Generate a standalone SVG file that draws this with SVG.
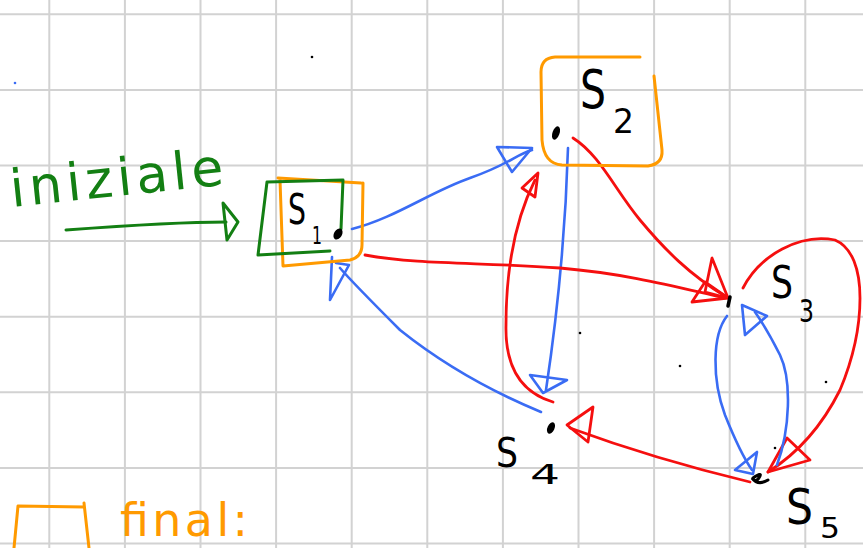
<svg xmlns="http://www.w3.org/2000/svg" width="863" height="548" viewBox="0 0 863 548">
<style>
.grid line{stroke:#d2d2d2;stroke-width:2}
.b{fill:none;stroke:#3a6cf4;stroke-width:2.6;stroke-linecap:round;stroke-linejoin:round}
.r{fill:none;stroke:#f50f0f;stroke-width:2.8;stroke-linecap:round;stroke-linejoin:round}
.g{fill:none;stroke:#137f13;stroke-width:3;stroke-linecap:round;stroke-linejoin:round}
.o{fill:none;stroke:#ff9a00;stroke-width:3;stroke-linecap:round;stroke-linejoin:round}
.lab{font-family:"DejaVu Sans",sans-serif;fill:#000}
</style>
<rect width="863" height="548" fill="#fff"/>
<g class="grid">
<line x1="49.3" y1="0" x2="49.3" y2="548"/><line x1="124.9" y1="0" x2="124.9" y2="548"/><line x1="200.5" y1="0" x2="200.5" y2="548"/><line x1="276.1" y1="0" x2="276.1" y2="548"/><line x1="351.7" y1="0" x2="351.7" y2="548"/><line x1="427.3" y1="0" x2="427.3" y2="548"/><line x1="502.9" y1="0" x2="502.9" y2="548"/><line x1="578.5" y1="0" x2="578.5" y2="548"/><line x1="654.1" y1="0" x2="654.1" y2="548"/><line x1="729.7" y1="0" x2="729.7" y2="548"/><line x1="805.3" y1="0" x2="805.3" y2="548"/>
<line x1="0" y1="14.3" x2="863" y2="14.3"/><line x1="0" y1="89.9" x2="863" y2="89.9"/><line x1="0" y1="165.5" x2="863" y2="165.5"/><line x1="0" y1="241.1" x2="863" y2="241.1"/><line x1="0" y1="316.7" x2="863" y2="316.7"/><line x1="0" y1="392.3" x2="863" y2="392.3"/><line x1="0" y1="467.9" x2="863" y2="467.9"/><line x1="0" y1="543.5" x2="863" y2="543.5"/>
</g>
<g id="specks">
<circle cx="312" cy="57" r="1.3" fill="#000"/><circle cx="15" cy="83" r="1.3" fill="#3a6cf4"/><circle cx="580" cy="333" r="1.3" fill="#000"/><circle cx="680" cy="366" r="1.3" fill="#000"/><circle cx="826" cy="382" r="1.3" fill="#000"/><circle cx="775" cy="448" r="1.3" fill="#000"/>
</g>
<g id="legend-initial">
<text class="lab" x="12" y="207" font-size="52" style="fill:#137f13" textLength="214" lengthAdjust="spacing" transform="rotate(-6 12 207)">iniziale</text>
</g>
<g id="legend-final">
<path class="o" d="M84,507 L18,506 L14,548 M84,503 L89,548"/>
<text class="lab" x="120" y="536" font-size="46" style="fill:#ff9a00" textLength="128" lengthAdjust="spacing">final:</text>
</g>
<g id="connectors">
<path class="g" d="M66,230 C120,226 180,222 226,222"/>
<path class="g" d="M223,203 L238,222 L227,240 Z"/>
<path class="b" d="M352,229 C395,218 430,192 470,178 S515,155 532,150"/>
<path class="b" d="M532,148 L497,147 L512,172 Z"/>
<path class="b" d="M568,148 C565,250 555,330 546,390"/>
<path class="b" d="M530,375 L567,380 L543,393 Z"/>
<path class="b" d="M541,412 C500,395 450,370 400,330 C370,300 352,282 340,268"/>
<path class="b" d="M332,257 L330,300 L349,265 L336,263"/>
<path class="r" d="M365,255 C420,265 480,262 560,268 C630,274 680,288 725,298"/>
<path class="r" d="M728,298 L692,302 L705,282 Z"/>
<path class="r" d="M573,138 C600,155 615,190 640,220 C665,250 690,275 725,296"/>
<path class="r" d="M712,258 L705,292 L728,298 Z"/>
<path class="r" d="M553,402 C520,392 505,365 506,325 C506,270 515,220 535,180"/>
<path class="r" d="M538,173 L522,188 L535,197 Z"/>
<path class="r" d="M750,482 C700,470 630,450 570,428"/>
<path class="r" d="M567,425 L593,407 L588,442 Z"/>
<path class="r" d="M743,288 C760,255 800,233 835,240 C870,255 865,330 840,390 C820,430 795,455 768,472"/>
<path class="r" d="M768,472 L787,438 L810,460 Z"/>
<path class="b" d="M727,316 C712,335 712,380 725,415 C735,440 745,460 752,470"/>
<path class="b" d="M753,474 L735,470 L757,452 Z"/>
<path class="b" d="M777,465 C790,430 792,380 780,355 C770,335 762,322 755,312"/>
<path class="b" d="M742,305 L767,316 L745,335 Z"/>
</g>
<g id="S1">
<path class="o" d="M361,183 L278,178 M280,180 L283,266 L350,260 Q362,257 362,245 L363,183"/>
<path class="g" d="M267,182 L343,180 L341,229 M267,182 L258,255 L330,251"/>
<ellipse cx="338" cy="234" rx="4" ry="6" transform="rotate(30 338 234)" fill="#000"/>
<text class="lab" x="288" y="224" font-size="42" textLength="18" lengthAdjust="spacingAndGlyphs">S</text>
<text class="lab" x="312" y="244" font-size="24" textLength="10" lengthAdjust="spacingAndGlyphs">1</text>
</g>
<g id="S2">
<path class="o" d="M640,57 L555,57 Q541,58 541,72 L542,140 Q544,164 562,165 L648,166 Q663,164 662,150 L654,76"/>
<ellipse cx="556" cy="133" rx="3.5" ry="7" transform="rotate(20 556 133)" fill="#000"/>
<text class="lab" x="580" y="108" font-size="54" textLength="26" lengthAdjust="spacingAndGlyphs">S</text>
<text class="lab" x="613" y="133" font-size="34" textLength="21" lengthAdjust="spacingAndGlyphs">2</text>
</g>
<g id="S3">
<path d="M730,297 L728,306" stroke="#000" stroke-width="3.5" stroke-linecap="round"/>
<text class="lab" x="771" y="298" font-size="44" textLength="22" lengthAdjust="spacingAndGlyphs">S</text>
<text class="lab" x="799" y="322" font-size="32" textLength="15" lengthAdjust="spacingAndGlyphs">3</text>
</g>
<g id="S4">
<ellipse cx="551" cy="428" rx="3.5" ry="6" transform="rotate(25 551 428)" fill="#000"/>
<text class="lab" x="496" y="467" font-size="40" textLength="22" lengthAdjust="spacingAndGlyphs">S</text>
<text class="lab" x="530" y="484" font-size="26" textLength="30" lengthAdjust="spacingAndGlyphs">4</text>
</g>
<g id="S5">
<path d="M753,478 Q762,472 760,476 Q756,484 752,478 Q758,486 768,480" fill="none" stroke="#000" stroke-width="3" stroke-linecap="round"/>
<text class="lab" x="786" y="524" font-size="50" textLength="27" lengthAdjust="spacingAndGlyphs">S</text>
<text class="lab" x="820" y="538" font-size="28" textLength="20" lengthAdjust="spacingAndGlyphs">5</text>
</g>
</svg>
